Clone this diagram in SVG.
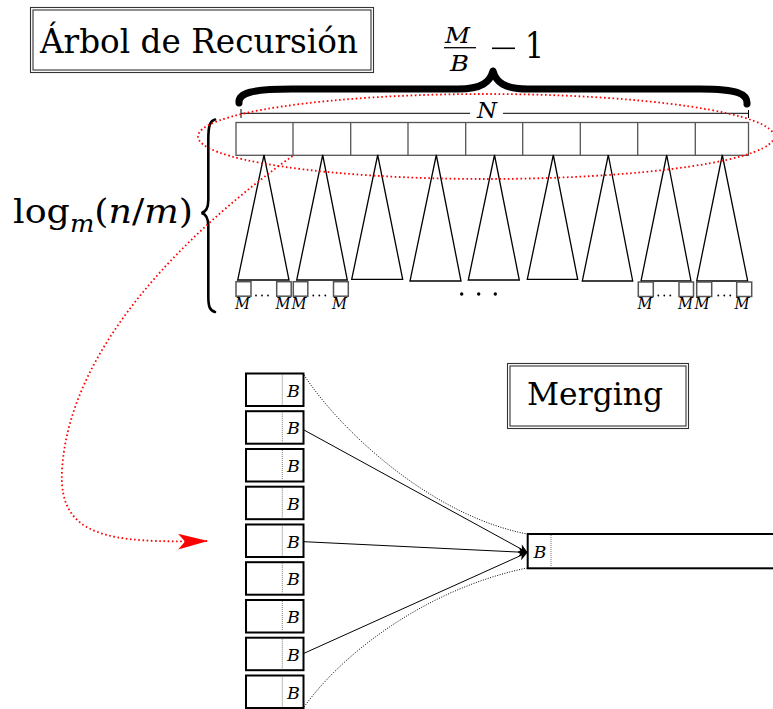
<svg xmlns="http://www.w3.org/2000/svg" width="773" height="709" viewBox="0 0 773 709">
<style>
text{font-family:"DejaVu Serif","Liberation Serif",serif;fill:#000}
.it{font-style:italic}
.frame{fill:none;stroke:#333;stroke-width:1.1}
.cell{fill:#fff;stroke:#555;stroke-width:1.3}
.tri{fill:#fff;stroke:#000;stroke-width:1.3;stroke-linejoin:miter}
.leaf{fill:#fff;stroke:#555;stroke-width:1.5}
.blk{fill:#fff;stroke:#000;stroke-width:2}
.sep{stroke:#777;stroke-width:1;stroke-dasharray:1 1}
.red{fill:none;stroke:#f00;stroke-width:1.8;stroke-dasharray:1.6 2.6}
.thin{fill:none;stroke:#000;stroke-width:1}
.dots{fill:none;stroke:#000;stroke-width:1;stroke-dasharray:1 1.5}
</style>
<defs>
<marker id="ah" viewBox="0 0 10 10" markerUnits="userSpaceOnUse" markerWidth="10" markerHeight="9" refX="10" refY="5" orient="auto">
<path d="M0,0 L10,5 L0,10 L3,5 z" fill="#000"/>
</marker>
<marker id="rah" viewBox="0 0 30 16" markerUnits="userSpaceOnUse" markerWidth="30" markerHeight="16" refX="30" refY="8" orient="auto">
<path d="M0,0 L30,8 L0,16 L7,8 z" fill="#f00"/>
</marker>
</defs>
<rect width="773" height="709" fill="#fff"/>

<g id="title">
<rect class="frame" x="30.5" y="7.5" width="343" height="65"/>
<rect class="frame" x="33" y="10" width="338" height="60"/>
<text x="40" y="53" font-size="33" textLength="318" lengthAdjust="spacingAndGlyphs">Árbol de Recursión</text>
</g>

<g id="brace-top">
<path d="M239,103 C238,93 252,89 292,89 L458,89 C482,89 490,82 493,71 C496,82 504,89 528,89 L700,89 C738,89 748,94 747,104" fill="none" stroke="#000" stroke-width="7" stroke-linecap="round" stroke-linejoin="round"/>
<text class="it" x="445" y="43" font-size="23" textLength="25" lengthAdjust="spacingAndGlyphs">M</text>
<line x1="444" y1="47.7" x2="476" y2="47.7" stroke="#000" stroke-width="1.3"/>
<text class="it" x="450" y="70.5" font-size="23" textLength="19" lengthAdjust="spacingAndGlyphs">B</text>
<line x1="492" y1="48.3" x2="515" y2="48.3" stroke="#000" stroke-width="1.6"/>
<text x="525" y="58.3" font-size="36" textLength="19" lengthAdjust="spacingAndGlyphs">1</text>
</g>

<g id="n-label">
<line x1="241" y1="113.3" x2="470" y2="113.3" stroke="#000" stroke-width="1"/>
<line x1="503" y1="113.3" x2="748.5" y2="113.3" stroke="#000" stroke-width="1"/>
<line x1="241" y1="109" x2="241" y2="118" stroke="#000" stroke-width="1"/>
<line x1="748.5" y1="110" x2="748.5" y2="118" stroke="#000" stroke-width="1"/>
<text class="it" x="477" y="117.5" font-size="22" textLength="20" lengthAdjust="spacingAndGlyphs">N</text>
</g>

<g id="array">
<rect class="cell" x="236" y="122.5" width="512.5" height="32.8"/>
<path d="M293,122.5 V155.3 M350.7,122.5 V155.3 M408,122.5 V155.3 M465.7,122.5 V155.3 M522.7,122.5 V155.3 M580.3,122.5 V155.3 M637.7,122.5 V155.3 M695.3,122.5 V155.3" stroke="#555" stroke-width="1.3"/>
</g>

<g id="subtrees">
<polygon class="tri" points="264,155 237.7,280 289,280"/>
<polygon class="tri" points="322.7,155 296.7,280 347.3,280"/>
<polygon class="tri" points="377.7,155 351.7,279.3 402.7,279.3"/>
<polygon class="tri" points="436.3,155 410,281 461,281"/>
<polygon class="tri" points="494.5,155 468.3,280 519.3,280"/>
<polygon class="tri" points="553.3,155 527.3,279.3 577.7,279.3"/>
<polygon class="tri" points="608.3,155 582.3,281 632.7,281"/>
<polygon class="tri" points="666.7,155 641,281 691,281"/>
<polygon class="tri" points="722.3,155 696.7,281 747.7,281"/>
</g>

<g id="leaves">
<rect class="leaf" x="236" y="281.7" width="15" height="14.5"/>
<rect class="leaf" x="276.7" y="281.7" width="14.5" height="14.5"/>
<rect class="leaf" x="293.3" y="281.7" width="14.5" height="14.5"/>
<rect class="leaf" x="333.5" y="281.7" width="14.8" height="14.5"/>
<rect class="leaf" x="638.3" y="282" width="15" height="14.5"/>
<rect class="leaf" x="679" y="282" width="14.5" height="14.5"/>
<rect class="leaf" x="696.7" y="282" width="15" height="14.5"/>
<rect class="leaf" x="736.7" y="282" width="15" height="14.5"/>
<g fill="#000">
<circle cx="256" cy="295.5" r="0.9"/><circle cx="262" cy="295.5" r="0.9"/><circle cx="268" cy="295.5" r="0.9"/>
<circle cx="313.3" cy="295.5" r="0.9"/><circle cx="319.3" cy="295.5" r="0.9"/><circle cx="325.3" cy="295.5" r="0.9"/>
<circle cx="658.3" cy="295.5" r="0.9"/><circle cx="664.3" cy="295.5" r="0.9"/><circle cx="670.3" cy="295.5" r="0.9"/>
<circle cx="718.3" cy="295.5" r="0.9"/><circle cx="724.3" cy="295.5" r="0.9"/><circle cx="730.3" cy="295.5" r="0.9"/>
<circle cx="461.7" cy="294" r="1.7"/><circle cx="478.7" cy="294" r="1.7"/><circle cx="495.3" cy="294" r="1.7"/>
</g>
<g font-size="16" font-style="italic">
<text x="235" y="308.5" textLength="15" lengthAdjust="spacingAndGlyphs">M</text>
<text x="275.5" y="308.5" textLength="15" lengthAdjust="spacingAndGlyphs">M</text>
<text x="291.5" y="308.5" textLength="15" lengthAdjust="spacingAndGlyphs">M</text>
<text x="332" y="308.5" textLength="15" lengthAdjust="spacingAndGlyphs">M</text>
<text x="637.5" y="308.5" textLength="15" lengthAdjust="spacingAndGlyphs">M</text>
<text x="678" y="308.5" textLength="15" lengthAdjust="spacingAndGlyphs">M</text>
<text x="694.5" y="308.5" textLength="15" lengthAdjust="spacingAndGlyphs">M</text>
<text x="734.5" y="308.5" textLength="15" lengthAdjust="spacingAndGlyphs">M</text>
</g>
</g>

<g id="depth">
<path d="M215,119.5 C209.5,121 208.3,127 208.3,140 L208.3,200 C208.3,208 205.5,212 201.5,213 C205.5,214 208.3,218 208.3,226 L208.3,296 C208.3,306 209.5,310.5 215,312" fill="none" stroke="#000" stroke-width="2.6" stroke-linecap="round"/>
<text x="13" y="223.3" font-size="34" textLength="180" lengthAdjust="spacingAndGlyphs">log<tspan font-size="24" font-style="italic" dy="8.5">m</tspan><tspan dy="-8.5">(</tspan><tspan font-style="italic">n</tspan>/<tspan font-style="italic">m</tspan>)</text>
</g>

<g id="merging-title">
<rect class="frame" x="507.5" y="363.5" width="181" height="65"/>
<rect class="frame" x="510" y="366" width="176" height="60"/>
<text x="527" y="405" font-size="32" textLength="136" lengthAdjust="spacingAndGlyphs">Merging</text>
</g>

<g id="input-blocks" font-size="17.5">
<g id="blk1"><rect class="blk" x="246" y="373.5" width="57.5" height="32.5"/><line class="sep" x1="282.3" y1="374.5" x2="282.3" y2="405"/><text class="it" x="287" y="396.5">B</text></g>
<g id="blk2"><rect class="blk" x="246" y="411.2" width="57.5" height="32.5"/><line class="sep" x1="282.3" y1="412.2" x2="282.3" y2="442.7"/><text class="it" x="287" y="434.2">B</text></g>
<g id="blk3"><rect class="blk" x="246" y="449" width="57.5" height="32.5"/><line class="sep" x1="282.3" y1="450" x2="282.3" y2="480.5"/><text class="it" x="287" y="472">B</text></g>
<g id="blk4"><rect class="blk" x="246" y="486.7" width="57.5" height="32.5"/><line class="sep" x1="282.3" y1="487.7" x2="282.3" y2="518.2"/><text class="it" x="287" y="509.7">B</text></g>
<g id="blk5"><rect class="blk" x="246" y="524.5" width="57.5" height="32.5"/><line class="sep" x1="282.3" y1="525.5" x2="282.3" y2="556"/><text class="it" x="287" y="547.5">B</text></g>
<g id="blk6"><rect class="blk" x="246" y="562.2" width="57.5" height="32.5"/><line class="sep" x1="282.3" y1="563.2" x2="282.3" y2="593.7"/><text class="it" x="287" y="585.2">B</text></g>
<g id="blk7"><rect class="blk" x="246" y="600" width="57.5" height="32.5"/><line class="sep" x1="282.3" y1="601" x2="282.3" y2="631.5"/><text class="it" x="287" y="623">B</text></g>
<g id="blk8"><rect class="blk" x="246" y="637.7" width="57.5" height="32.5"/><line class="sep" x1="282.3" y1="638.7" x2="282.3" y2="669.2"/><text class="it" x="287" y="660.7">B</text></g>
<g id="blk9"><rect class="blk" x="246" y="675.5" width="57.5" height="32.5"/><line class="sep" x1="282.3" y1="676.5" x2="282.3" y2="707"/><text class="it" x="287" y="698.5">B</text></g>
</g>

<g id="output" font-size="17.5">
<rect class="blk" x="527.7" y="534" width="250" height="34.3"/>
<line class="sep" x1="551" y1="535" x2="551" y2="567.3"/>
<text class="it" x="533.5" y="557.5">B</text>
</g>

<g id="ellipse">
<ellipse class="red" cx="486" cy="136.5" rx="288" ry="42.5"/>
</g>

<g id="connectors">
<path class="red" d="M292.5,156 C200,222 70,340 62,470 C58,538 110,543 208,541" marker-end="url(#rah)"/>
<path class="dots" d="M304,375 C340,430 430,515 527,534"/>
<path class="dots" d="M304,707 C345,650 430,588 527,568"/>
<line class="thin" x1="304" y1="430" x2="527.5" y2="552.5" marker-end="url(#ah)"/>
<line class="thin" x1="304" y1="541.7" x2="527.5" y2="552.5" marker-end="url(#ah)"/>
<line class="thin" x1="304" y1="653.3" x2="527.5" y2="552.5" marker-end="url(#ah)"/>
</g>
</svg>
